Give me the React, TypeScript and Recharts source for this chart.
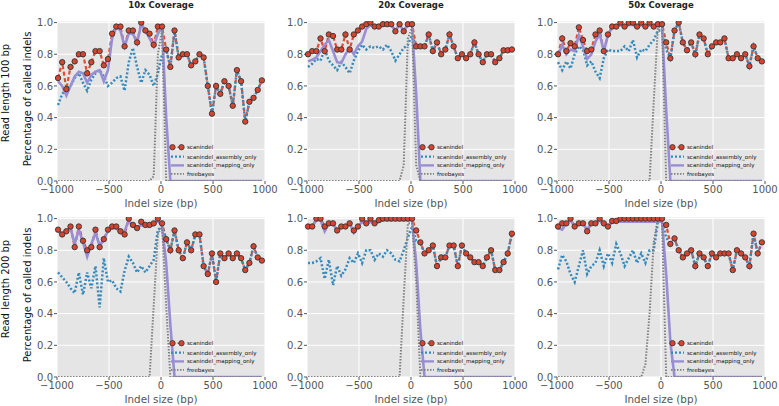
import React from 'react';
import { LineChart, Line, XAxis, YAxis, CartesianGrid } from 'recharts';

// indel sizes (bp) of each measured bin
const indelSizes = [
  -990, -950, -910, -870, -830, -790, -750, -710, -670, -630,
  -590, -550, -510, -470, -430, -390, -350, -310, -270, -230,
  -190, -150, -110, -70, -30, 10, 50, 90, 130, 170,
  210, 250, 290, 330, 370, 410, 450, 490, 530, 570,
  610, 650, 690, 730, 770, 810, 850, 890, 930, 970,
];

const xTicks = [-1000, -500, 0, 500, 1000];
const yTicks = [0, 0.2, 0.4, 0.6, 0.8, 1.0];
const coverageTitles = ['10x Coverage', '20x Coverage', '50x Coverage'];
const readLengthLabels = ['Read length 100 bp', 'Read length 200 bp'];

// ---- read length 100 bp ----
const scanindel100_10x = [
  0.65, 0.75, 0.58, 0.72, 0.755, 0.80, 0.80, 0.68, 0.75, 0.82,
  0.82, 0.73, 0.77, 0.93, 0.975, 0.975, 0.85, 0.95, 0.95, 0.875,
  1.0, 0.95, 0.93, 0.86, 0.975, 0.975, 0.83, 0.72, 0.95, 0.78,
  0.80, 0.80, 0.73, 0.755, 0.80, 0.78, 0.60, 0.425, 0.60, 0.55,
  0.63, 0.60, 0.475, 0.70, 0.63, 0.375, 0.50, 0.525, 0.575, 0.635,
];
const assembly100_10x = [
  0.48, 0.55, 0.58, 0.60, 0.65, 0.68, 0.62, 0.57, 0.64, 0.68,
  0.70, 0.66, 0.60, 0.62, 0.65, 0.66, 0.57, 0.75, 0.84, 0.72,
  0.62, 0.70, 0.67, 0.60, 0.68, 0.80, 0.83, 0.72, 0.95, 0.78,
  0.80, 0.80, 0.73, 0.755, 0.80, 0.78, 0.60, 0.425, 0.60, 0.55,
  0.63, 0.60, 0.475, 0.70, 0.63, 0.375, 0.50, 0.525, 0.575, 0.635,
];
const mapping100_10x = [
  0.63, 0.60, 0.54, 0.60, 0.66, 0.69, 0.68, 0.62, 0.67, 0.69,
  0.70, 0.63, 0.70, 0.90, 0.97, 0.95, 0.85, 0.93, 0.93, 0.87,
  0.99, 0.95, 0.90, 0.85, 0.93, 0.97, 0.40, 0, 0, 0,
  0, 0, 0, 0, 0, 0, 0, 0, 0, 0,
  0, 0, 0, 0, 0, 0, 0, 0, 0, 0,
];
const freebayes100_10x = [
  0, 0, 0, 0, 0, 0, 0, 0, 0, 0,
  0, 0, 0, 0, 0, 0, 0, 0, 0, 0,
  0, 0, 0, 0.03, 0.80, 0.95, 0, 0, 0, 0,
  0, 0, 0, 0, 0, 0, 0, 0, 0, 0,
  0, 0, 0, 0, 0, 0, 0, 0, 0, 0,
];

const scanindel100_20x = [
  0.80, 0.82, 0.82, 0.90, 0.82, 0.925, 0.915, 0.83, 0.83, 0.925,
  0.83, 0.925, 0.95, 0.975, 0.99, 1.0, 0.975, 0.975, 0.99, 0.99,
  0.99, 0.945, 0.99, 0.945, 0.99, 0.99, 0.85, 0.85, 0.85, 0.925,
  0.82, 0.875, 0.80, 0.83, 0.925, 0.85, 0.775, 0.80, 0.775, 0.80,
  0.875, 0.80, 0.75, 0.80, 0.80, 0.75, 0.775, 0.825, 0.825, 0.83,
];
const assembly100_20x = [
  0.72, 0.74, 0.77, 0.76, 0.83, 0.76, 0.73, 0.70, 0.75, 0.72,
  0.68, 0.76, 0.82, 0.86, 0.83, 0.85, 0.84, 0.85, 0.83, 0.86,
  0.82, 0.76, 0.80, 0.84, 0.86, 0.92, 0.85, 0.85, 0.85, 0.925,
  0.82, 0.875, 0.80, 0.83, 0.925, 0.85, 0.775, 0.80, 0.775, 0.80,
  0.875, 0.80, 0.75, 0.80, 0.80, 0.75, 0.775, 0.825, 0.825, 0.83,
];
const mapping100_20x = [
  0.755, 0.765, 0.78, 0.82, 0.86, 0.89, 0.82, 0.75, 0.745, 0.80,
  0.84, 0.80, 0.85, 0.88, 0.96, 0.985, 0.97, 0.975, 0.985, 0.99,
  0.985, 0.95, 0.985, 0.95, 0.985, 0.98, 0.55, 0, 0, 0,
  0, 0, 0, 0, 0, 0, 0, 0, 0, 0,
  0, 0, 0, 0, 0, 0, 0, 0, 0, 0,
];
const freebayes100_20x = [
  0, 0, 0, 0, 0, 0, 0, 0, 0, 0,
  0, 0, 0, 0, 0, 0, 0, 0, 0, 0,
  0, 0, 0, 0.10, 0.90, 0.97, 0.10, 0, 0, 0,
  0, 0, 0, 0, 0, 0, 0, 0, 0, 0,
  0, 0, 0, 0, 0, 0, 0, 0, 0, 0,
];

const scanindel100_50x = [
  0.80, 0.90, 0.82, 0.87, 0.85, 0.97, 0.89, 0.82, 0.83, 0.925,
  0.95, 0.82, 0.925, 0.975, 0.975, 1.0, 0.975, 1.0, 1.0, 0.975,
  1.0, 0.975, 1.0, 0.975, 0.99, 0.99, 0.875, 0.775, 0.95, 1.0,
  0.875, 0.825, 0.875, 0.80, 0.925, 0.90, 0.80, 0.85, 0.875, 0.875,
  0.90, 0.775, 0.775, 0.80, 0.775, 0.80, 0.725, 0.85, 0.775, 0.755,
];
const assembly100_50x = [
  0.75, 0.70, 0.755, 0.71, 0.80, 0.85, 0.83, 0.73, 0.755, 0.69,
  0.65, 0.775, 0.83, 0.82, 0.82, 0.82, 0.85, 0.82, 0.89, 0.78,
  0.83, 0.82, 0.86, 0.89, 0.95, 0.95, 0.83, 0.775, 0.95, 1.0,
  0.875, 0.825, 0.875, 0.80, 0.925, 0.90, 0.80, 0.85, 0.875, 0.875,
  0.90, 0.775, 0.775, 0.80, 0.775, 0.80, 0.725, 0.85, 0.775, 0.755,
];
const mapping100_50x = [
  0.79, 0.86, 0.80, 0.83, 0.82, 0.92, 0.85, 0.77, 0.80, 0.88,
  0.93, 0.82, 0.92, 0.97, 0.975, 0.985, 0.975, 0.985, 0.985, 0.975,
  0.985, 0.975, 0.985, 0.975, 0.98, 0.98, 0.45, 0, 0, 0,
  0, 0, 0, 0, 0, 0, 0, 0, 0, 0,
  0, 0, 0, 0, 0, 0, 0, 0, 0, 0,
];
const freebayes100_50x = [
  0, 0, 0, 0, 0, 0, 0, 0, 0, 0,
  0, 0, 0, 0, 0, 0, 0, 0, 0, 0,
  0, 0, 0, 0.50, 0.97, 0.97, 0, 0, 0, 0,
  0, 0, 0, 0, 0, 0, 0, 0, 0, 0,
  0, 0, 0, 0, 0, 0, 0, 0, 0, 0,
];

// ---- read length 200 bp ----
const scanindel200_10x = [
  0.93, 0.90, 0.92, 0.95, 0.82, 0.95, 0.86, 0.80, 0.82, 0.93,
  0.82, 0.87, 0.93, 0.95, 0.95, 0.92, 0.90, 1.0, 0.96, 0.94,
  0.98, 0.96, 0.96, 0.97, 1.0, 0.97, 0.87, 0.80, 0.925, 0.80,
  0.75, 0.85, 0.80, 0.90, 0.90, 0.70, 0.65, 0.78, 0.60, 0.78,
  0.75, 0.78, 0.75, 0.78, 0.75, 0.675, 0.72, 0.825, 0.755, 0.735,
];
const assembly200_10x = [
  0.66, 0.63, 0.60, 0.56, 0.53, 0.66, 0.52, 0.66, 0.56, 0.70,
  0.44, 0.75, 0.60, 0.61, 0.56, 0.54, 0.67, 0.76, 0.72, 0.66,
  0.70, 0.66, 0.70, 0.74, 0.93, 0.95, 0.87, 0.80, 0.925, 0.80,
  0.75, 0.85, 0.80, 0.90, 0.90, 0.70, 0.65, 0.78, 0.60, 0.78,
  0.75, 0.78, 0.75, 0.78, 0.75, 0.675, 0.72, 0.825, 0.755, 0.735,
];
const mapping200_10x = [
  0.92, 0.90, 0.92, 0.94, 0.84, 0.93, 0.85, 0.76, 0.84, 0.91,
  0.83, 0.87, 0.92, 0.94, 0.94, 0.91, 0.92, 0.99, 0.95, 0.94,
  0.96, 0.95, 0.95, 0.96, 0.99, 0.95, 0.72, 0.33, 0, 0,
  0, 0, 0, 0, 0, 0, 0, 0, 0, 0,
  0, 0, 0, 0, 0, 0, 0, 0, 0, 0,
];
const freebayes200_10x = [
  0, 0, 0, 0, 0, 0, 0, 0, 0, 0,
  0, 0, 0, 0, 0, 0, 0, 0, 0, 0,
  0, 0, 0, 0.45, 0.90, 0.95, 0.45, 0, 0, 0,
  0, 0, 0, 0, 0, 0, 0, 0, 0, 0,
  0, 0, 0, 0, 0, 0, 0, 0, 0, 0,
];

const scanindel200_20x = [
  0.95, 0.95, 1.0, 1.0, 0.95, 0.97, 0.97, 0.925, 0.95, 0.95,
  0.97, 0.925, 0.95, 1.0, 0.97, 1.0, 0.97, 0.99, 1.0, 1.0,
  1.0, 1.0, 1.0, 1.0, 1.0, 1.0, 0.925, 0.85, 0.78, 0.80,
  0.83, 0.70, 0.755, 0.755, 0.83, 0.83, 0.70, 0.83, 0.78, 0.755,
  0.725, 0.725, 0.70, 0.755, 0.80, 0.675, 0.675, 0.725, 0.78, 0.905,
];
const assembly200_20x = [
  0.72, 0.72, 0.73, 0.75, 0.62, 0.74, 0.58, 0.70, 0.64, 0.68,
  0.75, 0.72, 0.78, 0.72, 0.80, 0.80, 0.74, 0.78, 0.76, 0.80,
  0.78, 0.74, 0.73, 0.80, 0.88, 0.95, 0.86, 0.85, 0.78, 0.80,
  0.83, 0.70, 0.755, 0.755, 0.83, 0.83, 0.70, 0.83, 0.78, 0.755,
  0.725, 0.725, 0.70, 0.755, 0.80, 0.675, 0.675, 0.725, 0.78, 0.905,
];
const mapping200_20x = [
  0.94, 0.95, 0.99, 0.99, 0.92, 0.97, 0.97, 0.92, 0.95, 0.95,
  0.97, 0.91, 0.95, 0.98, 0.97, 0.98, 0.97, 0.98, 0.99, 0.99,
  0.99, 0.99, 0.99, 0.99, 0.99, 0.99, 0.72, 0.30, 0, 0,
  0, 0, 0, 0, 0, 0, 0, 0, 0, 0,
  0, 0, 0, 0, 0, 0, 0, 0, 0, 0,
];
const freebayes200_20x = [
  0, 0, 0, 0, 0, 0, 0, 0, 0, 0,
  0, 0, 0, 0, 0, 0, 0, 0, 0, 0,
  0, 0, 0, 0.50, 0.97, 0.97, 0.60, 0, 0, 0,
  0, 0, 0, 0, 0, 0, 0, 0, 0, 0,
  0, 0, 0, 0, 0, 0, 0, 0, 0, 0,
];

const scanindel200_50x = [
  0.95, 0.97, 0.97, 1.0, 0.95, 0.97, 0.97, 0.92, 0.97, 0.97,
  1.0, 0.97, 0.95, 0.985, 0.985, 1.0, 1.0, 1.0, 1.0, 1.0,
  1.0, 1.0, 1.0, 1.0, 1.0, 1.0, 0.96, 0.84, 0.875, 0.80,
  0.755, 0.78, 0.80, 0.70, 0.78, 0.755, 0.70, 0.78, 0.755, 0.78,
  0.78, 0.78, 0.675, 0.80, 0.78, 0.755, 0.70, 0.905, 0.78, 0.85,
];
const assembly200_50x = [
  0.68, 0.77, 0.73, 0.65, 0.60, 0.70, 0.80, 0.65, 0.70, 0.72,
  0.80, 0.70, 0.78, 0.72, 0.84, 0.78, 0.70, 0.75, 0.80, 0.72,
  0.78, 0.72, 0.80, 0.80, 0.98, 0.98, 0.88, 0.84, 0.875, 0.80,
  0.755, 0.78, 0.80, 0.70, 0.78, 0.755, 0.70, 0.78, 0.755, 0.78,
  0.78, 0.78, 0.675, 0.80, 0.78, 0.755, 0.70, 0.905, 0.78, 0.85,
];
const mapping200_50x = [
  0.94, 0.93, 0.97, 0.99, 0.95, 0.97, 0.97, 0.93, 0.97, 0.97,
  0.99, 0.96, 0.95, 0.975, 0.98, 0.98, 0.98, 0.98, 0.98, 0.98,
  0.98, 0.98, 0.98, 0.98, 0.98, 0.98, 0.65, 0.22, 0, 0,
  0, 0, 0, 0, 0, 0, 0, 0, 0, 0,
  0, 0, 0, 0, 0, 0, 0, 0, 0, 0,
];
const freebayes200_50x = [
  0, 0, 0, 0, 0, 0, 0, 0, 0, 0,
  0, 0, 0, 0, 0, 0, 0, 0, 0, 0,
  0, 0.08, 0.40, 0.85, 1.0, 0.98, 0, 0, 0, 0,
  0, 0, 0, 0, 0, 0, 0, 0, 0, 0,
  0, 0, 0, 0, 0, 0, 0, 0, 0, 0,
];

const seriesStyle = [
  { key: 'scanindel', name: 'scanindel', color: '#E24A33', dash: '4 2.5', width: 2.2 },
  { key: 'assembly', name: 'scanindel_assembly_only', color: '#348ABD', dash: '2 2', width: 2.5 },
  { key: 'mapping', name: 'scanindel_mapping_only', color: '#988ED5', dash: undefined, width: 2.6 },
  { key: 'freebayes', name: 'freebayes', color: '#808080', dash: '1.5 1.5', width: 2 },
];

const panels = [
  { row: 0, col: 0, scanindel: scanindel100_10x, assembly: assembly100_10x, mapping: mapping100_10x, freebayes: freebayes100_10x },
  { row: 0, col: 1, scanindel: scanindel100_20x, assembly: assembly100_20x, mapping: mapping100_20x, freebayes: freebayes100_20x },
  { row: 0, col: 2, scanindel: scanindel100_50x, assembly: assembly100_50x, mapping: mapping100_50x, freebayes: freebayes100_50x },
  { row: 1, col: 0, scanindel: scanindel200_10x, assembly: assembly200_10x, mapping: mapping200_10x, freebayes: freebayes200_10x },
  { row: 1, col: 1, scanindel: scanindel200_20x, assembly: assembly200_20x, mapping: mapping200_20x, freebayes: freebayes200_20x },
  { row: 1, col: 2, scanindel: scanindel200_50x, assembly: assembly200_50x, mapping: mapping200_50x, freebayes: freebayes200_50x },
];

// layout of the plot areas
const colLeft = [57, 307, 557];
const rowTop = [21, 217];
const PW = 208;
const PH = 160;
const AX_L = 45;
const PAD_T = 8;
const PAD_R = 22;
const AX_B = 28;

const FONT = '"DejaVu Sans", Verdana, sans-serif';
const tickStyle = { fontSize: 10, fill: '#555', fontFamily: FONT };
const fmtX = (v: number) => (v < 0 ? `\u2212${Math.abs(v)}` : `${v}`);
const fmtY = (v: number) => v.toFixed(1);

function Panel({ p }: { p: typeof panels[number] }) {
  const data = indelSizes.map((x, i) => ({
    x,
    scanindel: p.scanindel[i],
    assembly: p.assembly[i],
    mapping: p.mapping[i],
    freebayes: p.freebayes[i],
  }));
  const left = colLeft[p.col];
  const top = rowTop[p.row];
  return (
    <div style={{ position: 'absolute', left: left - AX_L, top: top - PAD_T }}>
      <LineChart
        width={AX_L + PW + PAD_R}
        height={PAD_T + PH + AX_B}
        data={data}
        margin={{ top: PAD_T, right: PAD_R - 4, bottom: 0, left: 0 }}
      >
        <CartesianGrid stroke="#ffffff" strokeWidth={1} fill="#e5e5e5" />
        <XAxis
          dataKey="x"
          type="number"
          domain={[-1000, 1000]}
          ticks={xTicks}
          interval={0}
          tickFormatter={fmtX}
          height={AX_B}
          tick={tickStyle}
          tickSize={3}
          tickMargin={2}
          tickLine={{ stroke: '#555' }}
          axisLine={false}
        />
        <XAxis
          xAxisId="top"
          dataKey="x"
          type="number"
          orientation="top"
          domain={[-1000, 1000]}
          ticks={xTicks}
          height={0}
          tick={false}
          tickSize={3}
          tickLine={{ stroke: '#555' }}
          axisLine={false}
        />
        <YAxis
          type="number"
          domain={[0, 1.01]}
          ticks={yTicks}
          interval={0}
          allowDataOverflow
          tickFormatter={fmtY}
          width={AX_L}
          tick={tickStyle}
          tickSize={3}
          tickMargin={1}
          tickLine={{ stroke: '#555' }}
          axisLine={false}
        />
        <YAxis
          yAxisId="right"
          orientation="right"
          type="number"
          domain={[0, 1.01]}
          ticks={yTicks}
          width={4}
          tick={false}
          tickSize={3}
          tickLine={{ stroke: '#555' }}
          axisLine={false}
        />
        {seriesStyle.map((s) => (
          <Line
            key={s.key}
            dataKey={s.key}
            name={s.name}
            type="linear"
            stroke={s.color}
            strokeWidth={s.width}
            strokeDasharray={s.dash}
            dot={
              s.key === 'scanindel'
                ? { r: 2.7, fill: '#D8432E', stroke: '#333', strokeWidth: 0.9, strokeDasharray: 'none' }
                : false
            }
            activeDot={false}
            isAnimationActive={false}
          />
        ))}
      </LineChart>
    </div>
  );
}

function PanelLegend({ right, bottom }: { right: number; bottom: number }) {
  const rowOffsets = [-33.8, -24.4, -15.6, -7.2];
  return (
    <g>
      {seriesStyle.map((s, i) => {
        const y = bottom + rowOffsets[i];
        return (
          <g key={s.key}>
            <line
              x1={right - 94}
              x2={right - 81}
              y1={y}
              y2={y}
              stroke={s.color}
              strokeWidth={i === 0 ? 1.5 : s.width * 0.9}
              strokeDasharray={s.dash}
            />
            {i === 0 && (
              <>
                <circle cx={right - 92.5} cy={y} r={2.7} fill="#D8432E" stroke="#333" strokeWidth={0.8} />
                <circle cx={right - 83.5} cy={y} r={2.7} fill="#D8432E" stroke="#333" strokeWidth={0.8} />
              </>
            )}
            <text x={right - 78} y={y} dominantBaseline="central" fontSize={5.5} fill="#111" fontFamily={FONT}>
              {s.name}
            </text>
          </g>
        );
      })}
    </g>
  );
}

export default function App() {
  return (
    <div style={{ position: 'absolute', left: 0, top: 0, width: 779, height: 406, background: '#fff', overflow: 'hidden', fontFamily: FONT }}>
      {panels.map((p) => (
        <Panel key={`${p.row}-${p.col}`} p={p} />
      ))}
      <svg width={779} height={406} style={{ position: 'absolute', left: 0, top: 0, pointerEvents: 'none' }}>
        {coverageTitles.map((t, c) => (
          <text key={t} x={colLeft[c] + PW / 2} y={5} textAnchor="middle" dominantBaseline="central" fontSize={8.5} fontWeight="bold" fill="#222" fontFamily={FONT}>
            {t}
          </text>
        ))}
        {rowTop.map((top, r) =>
          colLeft.map((left, c) => (
            <text key={`xl-${r}-${c}`} x={left + PW / 2} y={top + PH + 22} textAnchor="middle" dominantBaseline="central" fontSize={10.3} fill="#555" fontFamily={FONT}>
              Indel size (bp)
            </text>
          ))
        )}
        {rowTop.map((top, r) => (
          <g key={`yl-${r}`}>
            <text transform={`translate(27, ${top + PH / 2 - 2}) rotate(-90)`} textAnchor="middle" dominantBaseline="central" fontSize={10} fill="#111" fontFamily={FONT}>
              Percentage of called indels
            </text>
            <text transform={`translate(5, ${top + PH / 2 - 8}) rotate(-90)`} textAnchor="middle" dominantBaseline="central" fontSize={10} fill="#111" fontFamily={FONT}>
              {readLengthLabels[r]}
            </text>
          </g>
        ))}
        {panels.map((p) => (
          <PanelLegend key={`lg-${p.row}-${p.col}`} right={colLeft[p.col] + PW} bottom={rowTop[p.row] + PH} />
        ))}
      </svg>
    </div>
  );
}
